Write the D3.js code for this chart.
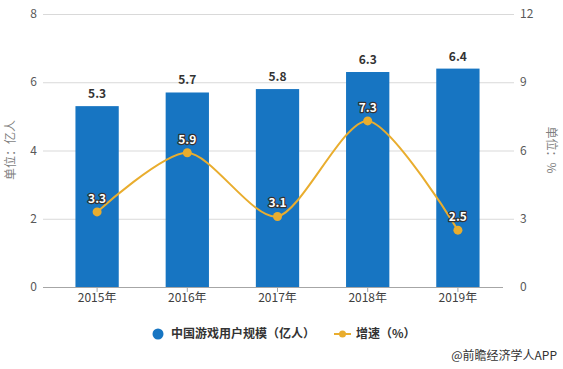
<!DOCTYPE html>
<html><head><meta charset="utf-8">
<script src="https://cdn.jsdelivr.net/npm/d3@7"></script>
<style>body{margin:0;background:#fff}svg{display:block}text{font-family:"Microsoft YaHei","Noto Sans CJK SC",sans-serif}</style>
</head><body><svg id="c" width="563" height="369"></svg>
<script>
const categories=["2015年","2016年","2017年","2018年","2019年"];
const users=[5.3,5.7,5.8,6.3,6.4];
const growth=[3.3,5.9,3.1,7.3,2.5];
const leftTicks=[0,2,4,6,8];
const rightTicks=[0,3,6,9,12];
const barColor="#1775c2", lineColor="#e9ad2e";
const svg=d3.select("#c");
const x=d3.scaleBand().domain(categories).range([52,503]).paddingInner(0.52).paddingOuter(0.26);
const yL=d3.scaleLinear().domain([0,8]).range([287,14]);
const yR=d3.scaleLinear().domain([0,12]).range([287,14]);
// grid
svg.append("g").selectAll("line").data(leftTicks.slice(1)).join("line")
 .attr("x1",43).attr("x2",514).attr("y1",d=>yL(d)+0.5).attr("y2",d=>yL(d)+0.5)
 .attr("stroke","#d9d9d9");
// left axis labels
svg.append("g").selectAll("text").data(leftTicks).join("text")
 .attr("x",37).attr("y",d=>yL(d)).attr("dy","0.35em").attr("text-anchor","end")
 .attr("font-size",12).attr("fill","#595959").text(d=>d);
svg.append("g").selectAll("text").data(rightTicks).join("text")
 .attr("x",520).attr("y",d=>yR(d)).attr("dy","0.35em").attr("text-anchor","start")
 .attr("font-size",12).attr("fill","#595959").text(d=>d);
// bars
svg.append("g").selectAll("rect").data(users).join("rect")
 .attr("x",(d,i)=>x(categories[i])).attr("width",x.bandwidth())
 .attr("y",d=>yL(d)).attr("height",d=>yL(0)-yL(d)).attr("fill",barColor);
// baseline
svg.append("line").attr("x1",43).attr("x2",503).attr("y1",287.5).attr("y2",287.5).attr("stroke","#a6a6a6");
svg.append("g").selectAll("line").data(categories).join("line")
 .attr("x1",d=>x(d)+x.bandwidth()/2).attr("x2",d=>x(d)+x.bandwidth()/2).attr("y1",287).attr("y2",292).attr("stroke","#a6a6a6");
// x labels
svg.append("g").selectAll("text").data(categories).join("text")
 .attr("x",d=>x(d)+x.bandwidth()/2).attr("y",302).attr("text-anchor","middle")
 .attr("font-size",12).attr("fill","#404040").text(d=>d);
// bar labels
svg.append("g").selectAll("text").data(users).join("text")
 .attr("x",(d,i)=>x(categories[i])+x.bandwidth()/2).attr("y",d=>yL(d)-8).attr("text-anchor","middle")
 .attr("font-size",12).attr("font-weight","bold").attr("fill","#333").text(d=>d.toFixed(1));
// line
const cx=i=>x(categories[i])+x.bandwidth()/2;
const line=d3.line().x((d,i)=>cx(i)).y(d=>yR(d)).curve(d3.curveCardinal.tension(0.2));
svg.append("path").attr("d",line(growth)).attr("fill","none").attr("stroke",lineColor).attr("stroke-width",2);
svg.append("g").selectAll("circle").data(growth).join("circle")
 .attr("cx",(d,i)=>cx(i)).attr("cy",d=>yR(d)).attr("r",4.5).attr("fill",lineColor);
svg.append("g").selectAll("text").data(growth).join("text")
 .attr("x",(d,i)=>cx(i)).attr("y",d=>yR(d)-9).attr("text-anchor","middle")
 .attr("font-size",12).attr("font-weight","bold").attr("fill","#fff")
 .attr("stroke","#333").attr("stroke-width",2.5).attr("paint-order","stroke").attr("stroke-linejoin","round")
 .text(d=>d.toFixed(1));
// axis titles
svg.append("text").attr("transform","translate(15,150) rotate(-90)").attr("text-anchor","middle")
 .attr("font-size",12).attr("fill","#7f7f7f").text("单位：亿人");
svg.append("text").attr("transform","translate(547,150) rotate(90)").attr("text-anchor","middle")
 .attr("font-size",12).attr("fill","#7f7f7f").text("单位：%");
// legend
svg.append("circle").attr("cx",158).attr("cy",334).attr("r",5.5).attr("fill",barColor);
svg.append("text").attr("x",171).attr("y",334).attr("dy","0.35em").attr("font-size",12).attr("font-weight","bold").attr("fill","#333").text("中国游戏用户规模（亿人）");
svg.append("line").attr("x1",334).attr("x2",351).attr("y1",334).attr("y2",334).attr("stroke",lineColor).attr("stroke-width",2);
svg.append("circle").attr("cx",342.5).attr("cy",334).attr("r",3.5).attr("fill",lineColor);
svg.append("text").attr("x",356).attr("y",334).attr("dy","0.35em").attr("font-size",12).attr("font-weight","bold").attr("fill","#333").text("增速（%）");
svg.append("text").attr("x",557).attr("y",356).attr("dy","0.35em").attr("text-anchor","end").attr("font-size",12).attr("fill","#333").text("@前瞻经济学人APP");
</script></body></html>
